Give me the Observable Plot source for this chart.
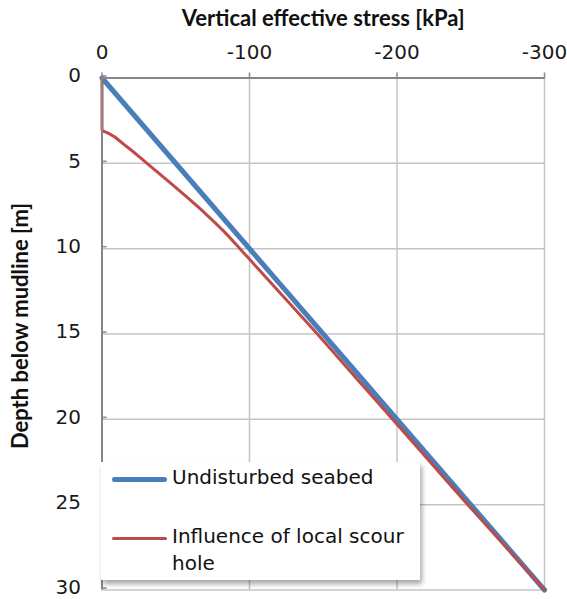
<!DOCTYPE html>
<html>
<head>
<meta charset="utf-8">
<script src="https://cdn.jsdelivr.net/npm/d3@7"></script>
<script src="https://cdn.jsdelivr.net/npm/@observablehq/plot@0.6"></script>
<style>
  body { margin: 0; background: #fff; }
  #chart { position: relative; width: 567px; height: 599px; font-family: "DejaVu Sans", sans-serif; }
  #chart svg { display: block; }
  .legend {
    position: absolute; left: 101px; top: 462px; width: 319px; height: 118px;
    background: #fff; box-shadow: 2px 4px 5px rgba(0,0,0,0.35);
    font-size: 20px; color: #111;
  }
  .legend .swatch { position: absolute; left: 11px; width: 55px; border-radius: 3px; }
  .legend .label { position: absolute; left: 71px; width: 245px; line-height: 27px; white-space: normal; }
</style>
</head>
<body>
<div id="chart"></div>
<script>
// Depth (m) and vertical effective stress (kPa) profiles
const stressTicks = [0, -100, -200, -300];
const depthTicks = [0, 5, 10, 15, 20, 25, 30];

const undisturbedDepth = [0, 30];
const undisturbedStress = [0, -300];

const scourDepth  = [0, 3.05, 3.15, 3.25, 4, 5, 6, 7, 8, 9, 10, 11, 12.5, 15, 17.5, 20, 22.5, 25, 27.5, 30];
const scourStress = [0, 0, -2, -4.5, -16.5, -30.5, -44.3, -57.8, -70.8, -82.8, -93.5, -104, -119.7, -146, -171.5, -197, -222.5, -248, -274, -300];

const seriesNames = ["Undisturbed seabed", "Influence of local scour hole"];
const seriesColors = ["#4a7ebb", "#be4b48"];
const seriesWidths = [5, 3];

const xTitle = "Vertical effective stress [kPa]";
const yTitle = "Depth below mudline [m]";

const undisturbed = undisturbedDepth.map((d, i) => ({depth: d, stress: undisturbedStress[i]}));
const scour = scourDepth.map((d, i) => ({depth: d, stress: scourStress[i]}));

const axisGray = "#868686";
const gridGray = "#c4c4c4";
const titleFont = "Lato, 'Open Sans', sans-serif";

const plot = Plot.plot({
  width: 567,
  height: 599,
  marginTop: 77.5,
  marginLeft: 101.5,
  marginRight: 23,
  marginBottom: 9.5,
  style: {fontFamily: "'DejaVu Sans', sans-serif", color: "#1a1a1a", background: "transparent", overflow: "visible"},
  x: {domain: [0, -300]},
  y: {domain: [0, 30], reverse: true},
  marks: [
    Plot.gridX(stressTicks.slice(1), {stroke: gridGray, strokeOpacity: 1, strokeWidth: 1.5}),
    Plot.gridY(depthTicks.slice(1), {stroke: gridGray, strokeOpacity: 1, strokeWidth: 1.5}),
    Plot.line(undisturbed, {x: "stress", y: "depth", stroke: seriesColors[0], strokeWidth: seriesWidths[0]}),
    Plot.line(scour, {x: "stress", y: "depth", stroke: seriesColors[1], strokeWidth: seriesWidths[1], curve: "monotone-y"}),
    Plot.axisX(stressTicks, {
      anchor: "top", label: null, tickSize: 6, tickPadding: 13,
      stroke: axisGray, strokeWidth: 1.5, fontSize: 20, tickFormat: d => String(d)
    }),
    Plot.axisY(depthTicks, {
      anchor: "left", label: null, tickSize: -5, tickPadding: 26,
      stroke: axisGray, strokeWidth: 1.5, fontSize: 20, dy: -2, tickFormat: d => String(d)
    }),
    Plot.ruleY([0], {stroke: axisGray, strokeWidth: 2}),
    Plot.ruleX([0], {stroke: axisGray, strokeWidth: 2}),
    Plot.text([xTitle], {text: d => d, frameAnchor: "top", textAnchor: "middle", lineAnchor: "bottom", dy: -52, fontSize: 22, fontWeight: "bold", fontFamily: titleFont, fill: "#111"}),
    Plot.text([yTitle], {text: d => d, frameAnchor: "left", textAnchor: "middle", rotate: -90, dx: -81, dy: -8, fontSize: 22, fontWeight: "bold", fontFamily: titleFont, fill: "#111"})
  ]
});

const chart = document.getElementById("chart");
chart.appendChild(plot);

// Legend box placed inside the lower-left of the plot area
const legend = document.createElement("div");
legend.className = "legend";
const rows = [{swatchTop: 15, labelTop: 2}, {swatchTop: 74, labelTop: 61}];
seriesNames.forEach((name, i) => {
  const sw = document.createElement("div");
  sw.className = "swatch";
  sw.style.top = (rows[i].swatchTop - seriesWidths[i] / 2 + 2) + "px";
  sw.style.height = seriesWidths[i] + "px";
  sw.style.background = seriesColors[i];
  legend.appendChild(sw);
  const lb = document.createElement("div");
  lb.className = "label";
  lb.style.top = rows[i].labelTop + "px";
  lb.textContent = name;
  legend.appendChild(lb);
});
chart.appendChild(legend);
</script>
</body>
</html>
